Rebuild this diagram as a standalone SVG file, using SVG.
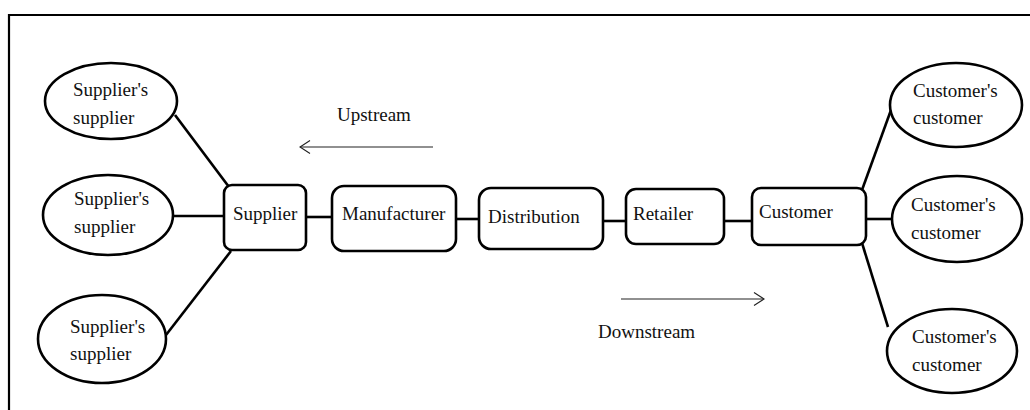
<svg xmlns="http://www.w3.org/2000/svg" width="1030" height="410" viewBox="0 0 1030 410">
<defs>
<style>
text{font-family:"Liberation Serif","DejaVu Serif",serif;font-size:19px;fill:#111}
.box{fill:#fff;stroke:#000;stroke-width:2.6}
.ell{fill:#fff;stroke:#000;stroke-width:2.6}
.con{stroke:#000;stroke-width:2.6;fill:none}
.flow{stroke:#222;stroke-width:1.1;fill:none}
</style>
<marker id="open" viewBox="0 0 14 14" refX="13" refY="7" markerWidth="14" markerHeight="14" markerUnits="userSpaceOnUse" orient="auto">
<path d="M3,0.5 L13,7 L3,13.5" fill="none" stroke="#222" stroke-width="1.1"/>
</marker>
</defs>
<rect x="0" y="0" width="1030" height="410" fill="#fff"/>
<path d="M9,410 L9,15 L1030,15" fill="none" stroke="#000" stroke-width="2.2"/>

<g id="connectors">
<line class="con" x1="175" y1="115" x2="229" y2="187"/>
<line class="con" x1="173" y1="216" x2="225" y2="216"/>
<line class="con" x1="166" y1="335" x2="231" y2="251"/>
<line class="con" x1="306" y1="217" x2="333" y2="217"/>
<line class="con" x1="456" y1="219" x2="479" y2="219"/>
<line class="con" x1="603" y1="221" x2="626" y2="221"/>
<line class="con" x1="724" y1="221" x2="752" y2="221"/>
<line class="con" x1="862" y1="190" x2="891" y2="110"/>
<line class="con" x1="866" y1="219" x2="893" y2="219"/>
<line class="con" x1="862" y1="243" x2="888" y2="327"/>
<line class="flow" x1="433" y1="147" x2="300" y2="147" marker-end="url(#open)"/>
<line class="flow" x1="621" y1="299" x2="764" y2="299" marker-end="url(#open)"/>
</g>

<g id="upstream-label"><text x="337" y="121">Upstream</text></g>
<g id="downstream-label"><text x="598" y="338">Downstream</text></g>

<g id="ss1"><ellipse class="ell" cx="111" cy="101" rx="66" ry="38"/><text x="73" y="96">Supplier's</text><text x="73" y="124">supplier</text></g>
<g id="ss2"><ellipse class="ell" cx="108" cy="215" rx="65" ry="40"/><text x="74" y="205">Supplier's</text><text x="74" y="233">supplier</text></g>
<g id="ss3"><ellipse class="ell" cx="102" cy="339" rx="64" ry="44"/><text x="70" y="333">Supplier's</text><text x="70" y="360">supplier</text></g>

<g id="supplier"><rect class="box" x="224" y="185" width="82" height="65" rx="8"/><text x="233" y="220">Supplier</text></g>
<g id="manufacturer"><rect class="box" x="332" y="186" width="124" height="65" rx="12"/><text x="342" y="220">Manufacturer</text></g>
<g id="distribution"><rect class="box" x="479" y="188" width="124" height="61" rx="12"/><text x="488" y="223">Distribution</text></g>
<g id="retailer"><rect class="box" x="626" y="189" width="98" height="55" rx="10"/><text x="633" y="220">Retailer</text></g>
<g id="customer"><rect class="box" x="752" y="188" width="114" height="57" rx="9"/><text x="759" y="218">Customer</text></g>

<g id="cc1"><ellipse class="ell" cx="956" cy="105" rx="66" ry="42"/><text x="913" y="97">Customer's</text><text x="913" y="124">customer</text></g>
<g id="cc2"><ellipse class="ell" cx="957" cy="219" rx="65" ry="43"/><text x="911" y="211">Customer's</text><text x="911" y="239">customer</text></g>
<g id="cc3"><ellipse class="ell" cx="952" cy="351" rx="65" ry="42"/><text x="912" y="343">Customer's</text><text x="912" y="371">customer</text></g>
</svg>
